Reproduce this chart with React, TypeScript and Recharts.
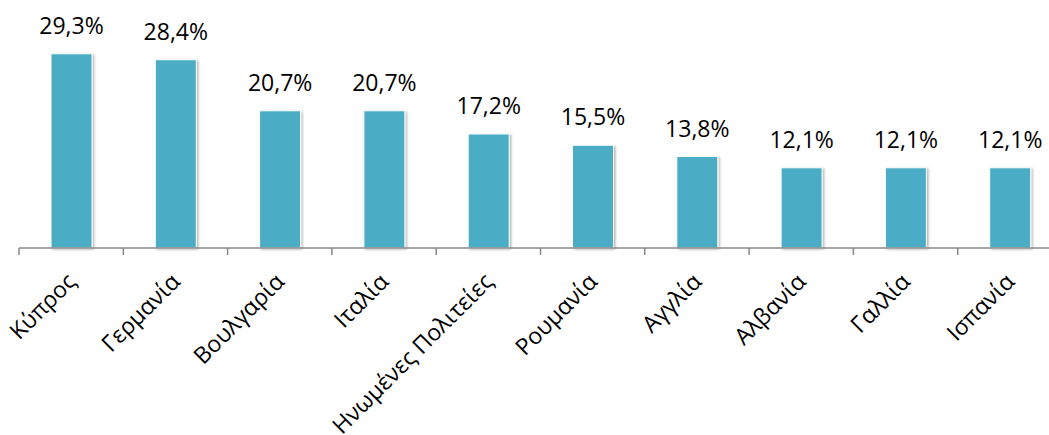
import { Bar, BarChart, LabelList, XAxis, YAxis } from "recharts";

const countries = [
  "Κύπρος",
  "Γερμανία",
  "Βουλγαρία",
  "Ιταλία",
  "Ηνωμένες Πολιτείες",
  "Ρουμανία",
  "Αγγλία",
  "Αλβανία",
  "Γαλλία",
  "Ισπανία",
];

const shares = [29.3, 28.4, 20.7, 20.7, 17.2, 15.5, 13.8, 12.1, 12.1, 12.1];

// category slots on a 0..10 axis: integer ticks are the boundaries, half ticks carry the names
const slots = countries.map((_, i) => i + 0.5);
const axisTicks = [0, ...slots.flatMap((s) => [s, s + 0.5])];

const data = countries.map((name, i) => ({ name, pos: slots[i], value: shares[i] }));

const fmt = (v: number) => v.toFixed(1).replace(".", ",") + "%";

const TICK_LEN = 7;

function CountryTick(props: any) {
  const { x, y, payload } = props;
  const v = payload.value as number;
  if (Number.isInteger(v)) {
    return <line x1={x} x2={x} y1={y - TICK_LEN} y2={y} stroke="#888" strokeWidth={1.5} />;
  }
  const name = countries[Math.floor(v)];
  return (
    <g transform={`translate(${x + 6},${y + 28})`}>
      <text
        textAnchor="end"
        transform="rotate(-45)"
        fontSize={23}
        fill="#000"
        fontFamily="'Open Sans', sans-serif"
      >
        {name}
      </text>
    </g>
  );
}

export default function App() {
  return (
    <div style={{ position: "fixed", left: 0, top: 0, width: 1049, height: 435, overflow: "hidden", background: "#fff" }}>
      <BarChart
        width={1070}
        height={435}
        data={data}
        margin={{ top: 16, right: 8, bottom: 0, left: 19 }}
      >
        <defs>
          <filter id="barShadow" x="-20%" y="-10%" width="140%" height="120%">
            <feDropShadow dx="1.5" dy="1" stdDeviation="1.2" floodColor="#000" floodOpacity="0.3" />
          </filter>
        </defs>
        <XAxis
          dataKey="pos"
          type="number"
          domain={[0, 10]}
          ticks={axisTicks}
          interval={0}
          allowDataOverflow
          height={187}
          tickLine={false}
          tickSize={TICK_LEN}
          tickMargin={0}
          axisLine={{ stroke: "#888", strokeWidth: 1.5 }}
          tick={<CountryTick />}
        />
        <YAxis hide domain={[0, 35]} />
        <Bar
          dataKey="value"
          fill="#4BACC6"
          stroke="#ffffff"
          strokeWidth={1}
          barSize={41}
          filter="url(#barShadow)"
          isAnimationActive={false}
        >
          <LabelList
            dataKey="value"
            position="top"
            offset={20}
            formatter={(v: any) => fmt(Number(v))}
            fontSize={23}
            fill="#000"
            fontFamily="'Open Sans', sans-serif"
          />
        </Bar>
      </BarChart>
    </div>
  );
}
